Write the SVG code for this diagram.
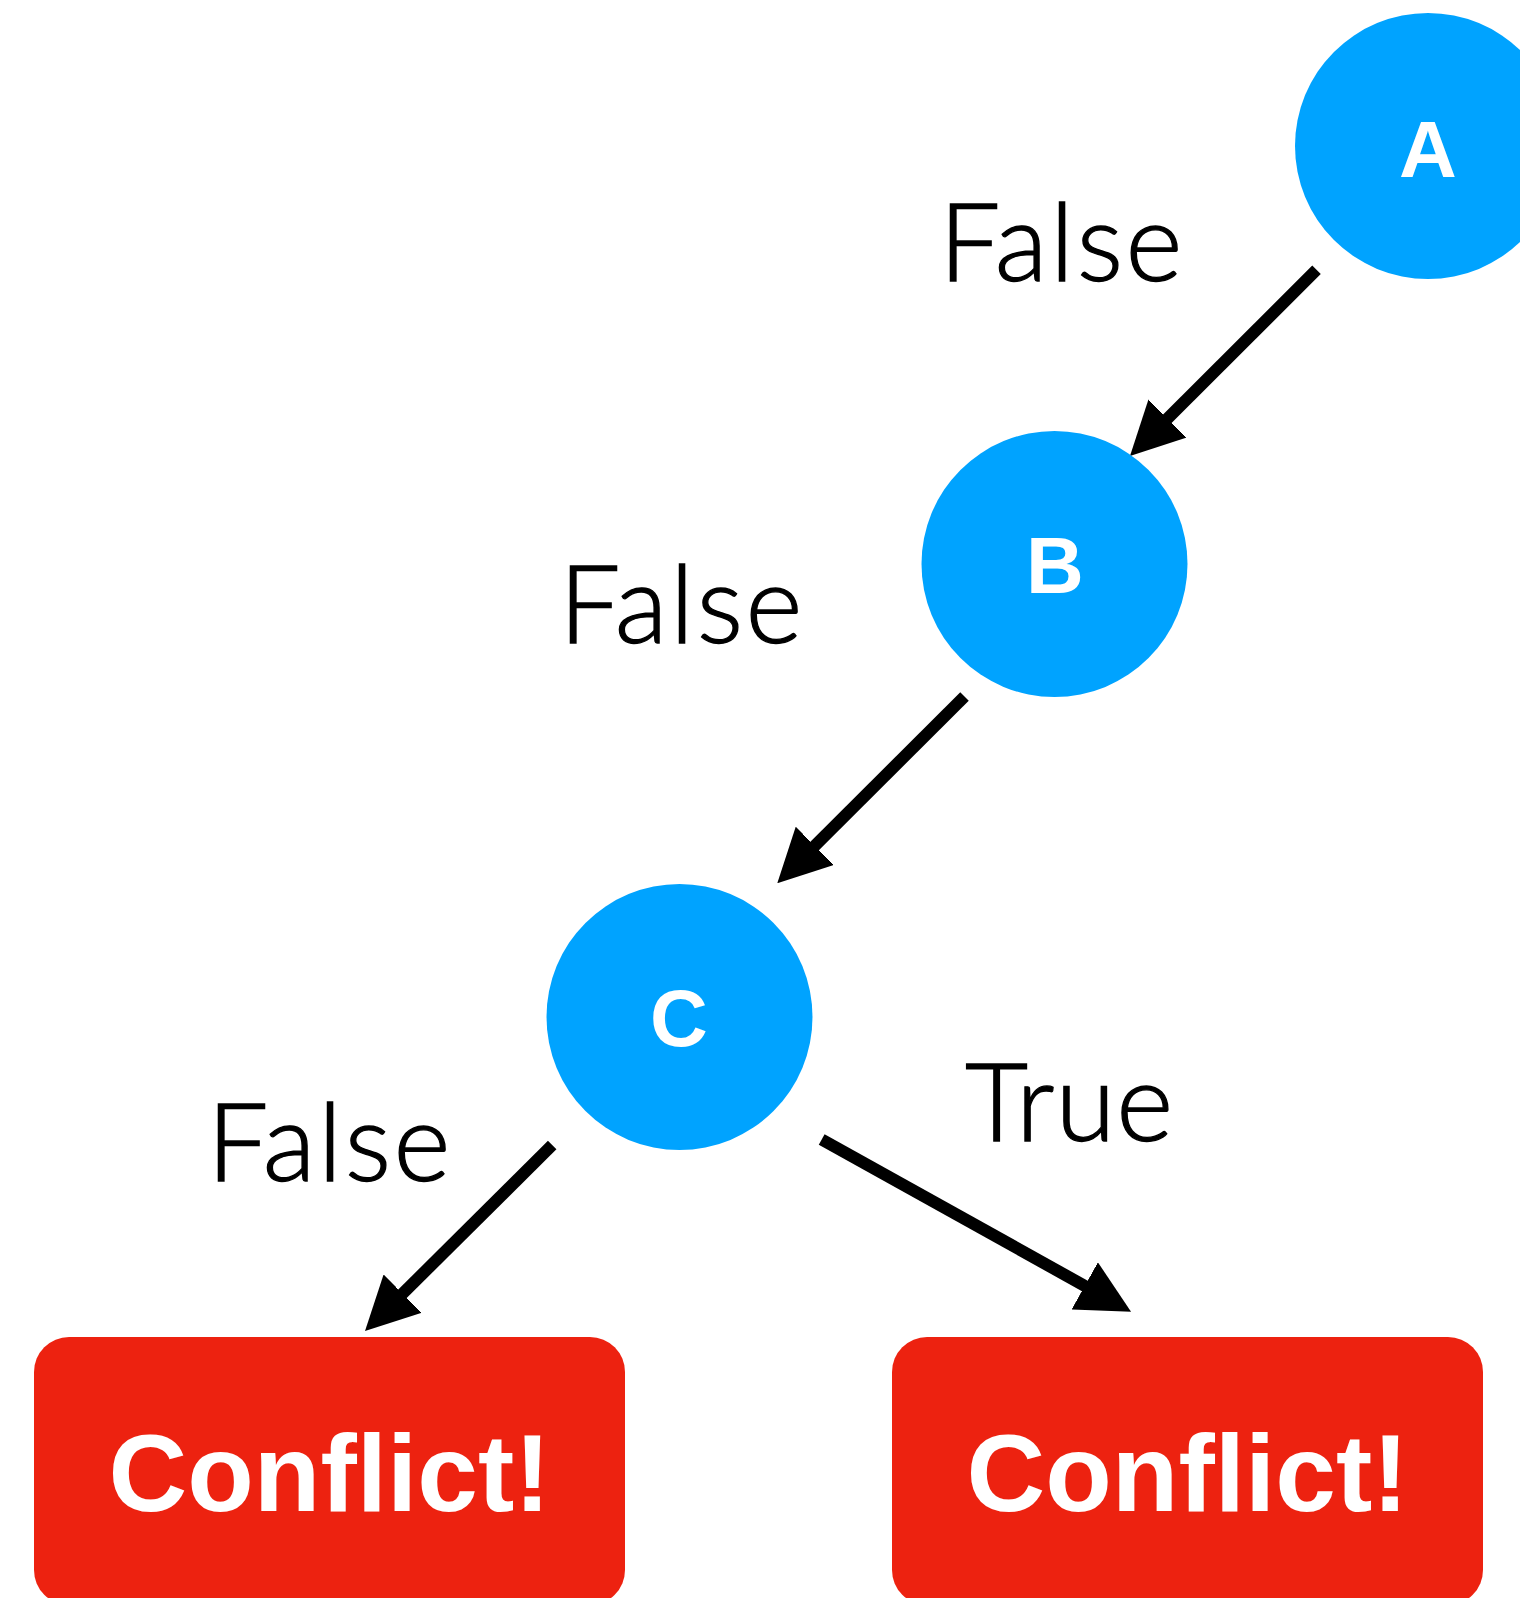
<svg xmlns="http://www.w3.org/2000/svg" width="1520" height="1598" viewBox="0 0 1520 1598">
  <style>
    .node { fill: #00A3FF; }
    .nodeText { fill: #FFFFFF; font-family: "Liberation Sans", Arial, sans-serif; font-weight: bold; font-size: 80px; text-anchor: middle; }
    .conflict { fill: #ED2210; }
    .conflictText { fill: #FFFFFF; font-family: "Liberation Sans", Arial, sans-serif; font-weight: bold; font-size: 109px; text-anchor: middle; }
    .label { fill: #000000; stroke: #000000; stroke-width: 1.3; font-family: Lato, "Open Sans", sans-serif; font-weight: 300; font-size: 109px; letter-spacing: 2.5px; }
    .edge { stroke: #000000; stroke-width: 12; fill: none; stroke-linecap: butt; marker-end: url(#arrow); }
  </style>
  <defs>
    <marker id="arrow" viewBox="0 0 53 54" refX="13" refY="27" markerWidth="53" markerHeight="54" markerUnits="userSpaceOnUse" orient="auto">
      <path d="M0,0 L53,27 L0,54 Z" fill="#000000"/>
    </marker>
  </defs>
  <rect width="1520" height="1598" fill="#FFFFFF"/>

  <g id="connectors">
    <line class="edge" x1="1316.5" y1="269.8" x2="1158.3" y2="427.7"/>
    <line class="edge" x1="964.5" y1="696.5" x2="805.6" y2="855"/>
    <line class="edge" x1="552.2" y1="1145" x2="393.4" y2="1302.8"/>
    <line class="edge" x1="821.7" y1="1139.5" x2="1096.1" y2="1292.2"/>
  </g>

  <g id="labels">
    <text class="label" x="939" y="281">False</text>
    <text class="label" x="559" y="643">False</text>
    <text class="label" x="207" y="1181">False</text>
    <text class="label" x="965" y="1141" style="letter-spacing:1px">True</text>
  </g>

  <g id="node-A">
    <circle class="node" cx="1428" cy="146" r="133"/>
    <text class="nodeText" x="1428" y="177">A</text>
  </g>
  <g id="node-B">
    <circle class="node" cx="1054.5" cy="564" r="133"/>
    <text class="nodeText" x="1055" y="593">B</text>
  </g>
  <g id="node-C">
    <circle class="node" cx="679.5" cy="1017" r="133"/>
    <text class="nodeText" x="679" y="1046">C</text>
  </g>
  <g id="conflict-left">
    <rect class="conflict" x="34" y="1337" width="591" height="268" rx="35" ry="35"/>
    <text class="conflictText" x="329.5" y="1511">Conflict!</text>
  </g>
  <g id="conflict-right">
    <rect class="conflict" x="892" y="1337" width="591" height="268" rx="35" ry="35"/>
    <text class="conflictText" x="1187.5" y="1511">Conflict!</text>
  </g>
</svg>
